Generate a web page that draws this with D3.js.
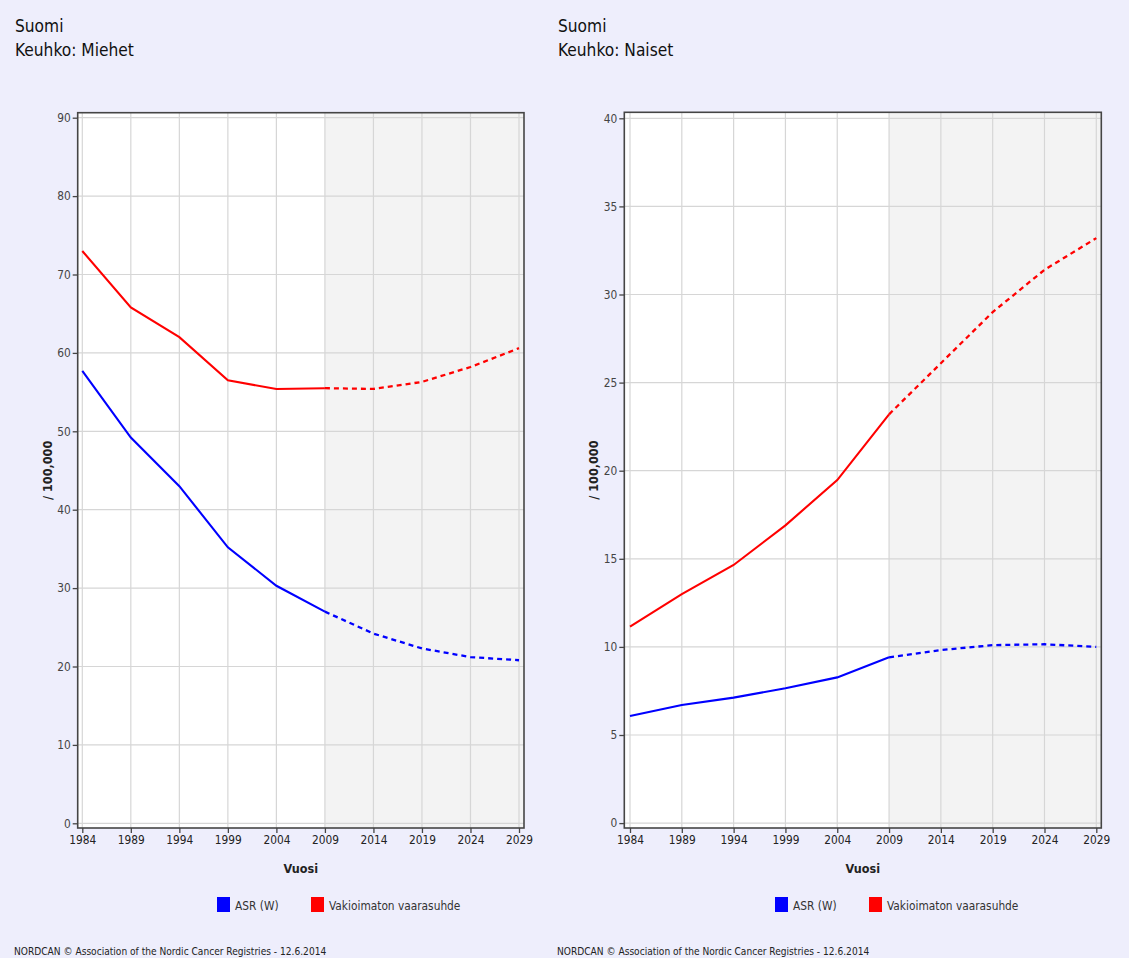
<!DOCTYPE html>
<html>
<head>
<meta charset="utf-8">
<script src="https://cdn.jsdelivr.net/npm/d3@7"></script>
<style>
  html, body { margin: 0; padding: 0; background: #eeeefc; }
  svg { display: block; }
  text { font-family: "DejaVu Sans Condensed", "DejaVu Sans", sans-serif; }
</style>
</head>
<body>
<svg id="chart" width="1129" height="958"></svg>
<script>
// Lung cancer incidence in Finland, observed 1984–2009 and projected to 2029
const years = [1984, 1989, 1994, 1999, 2004, 2009, 2014, 2019, 2024, 2029];
const projectionStart = 2009;

// Men (per 100,000)
const menASR   = [57.7, 49.2, 43.0, 35.2, 30.3, 27.0, 24.2, 22.3, 21.2, 20.8];
const menCrude = [73.0, 65.8, 62.0, 56.5, 55.4, 55.5, 55.4, 56.3, 58.2, 60.6];
const menYTicks = [0, 10, 20, 30, 40, 50, 60, 70, 80, 90];

// Women (per 100,000)
const womenASR   = [6.08, 6.70, 7.12, 7.65, 8.27, 9.41, 9.82, 10.1, 10.15, 10.0];
const womenCrude = [11.15, 13.0, 14.65, 16.9, 19.47, 23.2, 26.1, 29.0, 31.4, 33.2];
const womenYTicks = [0, 5, 10, 15, 20, 25, 30, 35, 40];

const seriesNames = ["ASR (W)", "Vakioimaton vaarasuhde"];
const seriesColors = ["#0000ff", "#ff0000"];
const country = "Suomi";
const panelTitles = ["Keuhko: Miehet", "Keuhko: Naiset"];
const xTitle = "Vuosi";
const yTitle = "/ 100,000";
const footer = "NORDCAN \u00a9 Association of the Nordic Cancer Registries - 12.6.2014";

const svg = d3.select("#chart");

const panels = [
  {
    title: panelTitles[0], series: [menASR, menCrude], yTicks: menYTicks,
    ox: 0, frame: { x0: 77.7, x1: 524, y0: 112.7, y1: 828 },
    xr: [82.3, 519], yr: [823.3, 117.7],
    legendX: 217, yTitleX: 48
  },
  {
    title: panelTitles[1], series: [womenASR, womenCrude], yTicks: womenYTicks,
    ox: 543, frame: { x0: 624.3, x1: 1101.3, y0: 112.3, y1: 828 },
    xr: [630, 1096.3], yr: [823.1, 118.3],
    legendX: 775, yTitleX: 594
  }
];

panels.forEach(p => {
  const g = svg.append("g");
  const f = p.frame;
  const x = d3.scaleLinear().domain([years[0], years[years.length - 1]]).range(p.xr);
  const yMax = p.yTicks[p.yTicks.length - 1];
  const y = d3.scaleLinear().domain([0, yMax]).range(p.yr);

  // Titles
  g.append("text").attr("x", p.ox + 15).attr("y", 32)
    .attr("font-size", 17.2).attr("fill", "#111").text(country);
  g.append("text").attr("x", p.ox + 15).attr("y", 56)
    .attr("font-size", 17.2).attr("fill", "#111").text(p.title);

  // Plot area: white history, grey projection period
  g.append("rect").attr("x", f.x0).attr("y", f.y0)
    .attr("width", f.x1 - f.x0).attr("height", f.y1 - f.y0).attr("fill", "#ffffff");
  g.append("rect").attr("x", x(projectionStart)).attr("y", f.y0)
    .attr("width", f.x1 - x(projectionStart)).attr("height", f.y1 - f.y0).attr("fill", "#f3f3f3");

  // Grid
  g.append("g").selectAll("line").data(years).join("line")
    .attr("x1", d => x(d)).attr("x2", d => x(d))
    .attr("y1", f.y0).attr("y2", f.y1)
    .attr("stroke", "#d6d6d6").attr("stroke-width", 1.2);
  g.append("g").selectAll("line").data(p.yTicks).join("line")
    .attr("x1", f.x0).attr("x2", f.x1)
    .attr("y1", d => y(d)).attr("y2", d => y(d))
    .attr("stroke", "#d6d6d6").attr("stroke-width", 1.2);

  // Lines: solid for observed, dashed for projection
  const line = d3.line().x(d => x(d[0])).y(d => y(d[1]));
  p.series.forEach((vals, i) => {
    const pts = years.map((yr, k) => [yr, vals[k]]);
    const obs = pts.filter(d => d[0] <= projectionStart);
    const proj = pts.filter(d => d[0] >= projectionStart);
    g.append("path").attr("d", line(obs)).attr("fill", "none")
      .attr("stroke", seriesColors[i]).attr("stroke-width", 2.1);
    g.append("path").attr("d", line(proj)).attr("fill", "none")
      .attr("stroke", seriesColors[i]).attr("stroke-width", 2.3)
      .attr("stroke-dasharray", "5,4");
  });

  // Frame
  g.append("rect").attr("x", f.x0).attr("y", f.y0)
    .attr("width", f.x1 - f.x0).attr("height", f.y1 - f.y0)
    .attr("fill", "none").attr("stroke", "#454545").attr("stroke-width", 1.6);

  // Y axis ticks
  const yAxis = d3.axisLeft(y).tickValues(p.yTicks).tickSize(5).tickPadding(2);
  const ya = g.append("g").attr("transform", `translate(${f.x0},0)`).call(yAxis);
  ya.select(".domain").remove();
  ya.selectAll(".tick line").attr("stroke", "#454545").attr("stroke-width", 1.3);
  ya.selectAll(".tick text").attr("font-size", 11.8).attr("fill", "#444")
    .attr("font-family", "DejaVu Sans Condensed, DejaVu Sans, sans-serif");

  // X axis ticks
  const xAxis = d3.axisBottom(x).tickValues(years).tickFormat(d3.format("d")).tickSize(5).tickPadding(3);
  const xa = g.append("g").attr("transform", `translate(0,${f.y1})`).call(xAxis);
  xa.select(".domain").remove();
  xa.selectAll(".tick line").attr("stroke", "#454545").attr("stroke-width", 1.3);
  xa.selectAll(".tick text").attr("font-size", 11.8).attr("fill", "#222")
    .attr("font-family", "DejaVu Sans Condensed, DejaVu Sans, sans-serif");

  // Axis titles
  g.append("text").attr("x", (f.x0 + f.x1) / 2).attr("y", 873)
    .attr("text-anchor", "middle").attr("font-size", 12.5).attr("font-weight", "bold")
    .attr("fill", "#222").text(xTitle);
  g.append("text").attr("transform", `translate(${p.yTitleX + 4},${(f.y0 + f.y1) / 2}) rotate(-90)`)
    .attr("text-anchor", "middle").attr("font-size", 12.5).attr("font-weight", "bold")
    .attr("fill", "#222").text(yTitle);

  // Legend
  const lg = g.append("g").attr("transform", `translate(${p.legendX},897)`);
  let lx = 0;
  seriesNames.forEach((name, i) => {
    lg.append("rect").attr("x", lx).attr("y", 0).attr("width", 13).attr("height", 15)
      .attr("fill", seriesColors[i]);
    lg.append("text").attr("x", lx + 18).attr("y", 13)
      .attr("font-size", 11.8).attr("fill", "#333").text(name);
    lx += 94;
  });

  // Footer
  g.append("text").attr("x", p.ox + 14).attr("y", 955)
    .attr("font-size", 10.1).attr("fill", "#222")
    .attr("font-family", "Liberation Sans Narrow, Liberation Sans, Arial, sans-serif")
    .text(footer);
});
</script>
</body>
</html>
